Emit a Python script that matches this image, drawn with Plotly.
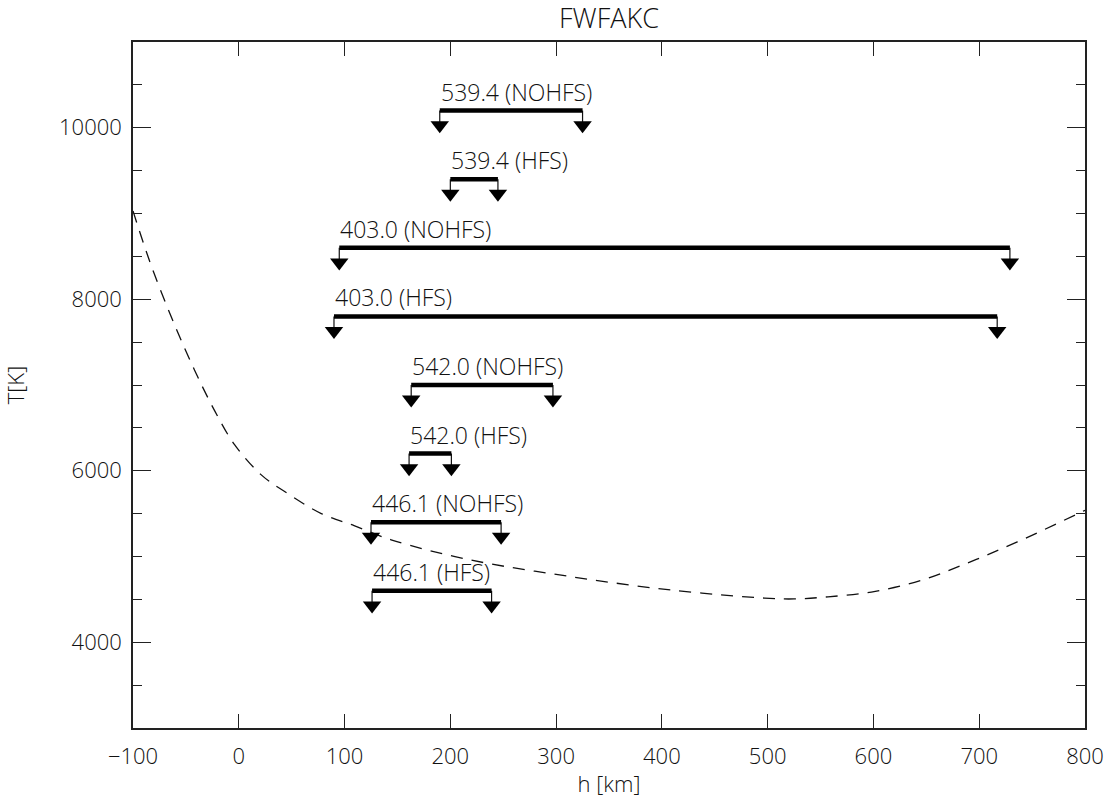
import plotly.graph_objects as go

# ---- data ----
labels = ["539.4 (NOHFS)", "539.4 (HFS)", "403.0 (NOHFS)", "403.0 (HFS)",
          "542.0 (NOHFS)", "542.0 (HFS)", "446.1 (NOHFS)", "446.1 (HFS)"]
h_left = [190, 200, 95, 90, 163, 161, 125, 126]
h_right = [325, 245, 729, 717, 297, 201, 248, 239]
t_level = [10200, 9400, 8600, 7800, 7000, 6200, 5400, 4600]

h_curve = [-100, -90, -80, -61, -42, -23, -4, 21, 43, 78, 109, 144, 219, 314, 408,
           497, 525, 557, 598, 645, 689, 736, 796, 800]
t_curve = [9030, 8650, 8300, 7711, 7179, 6704, 6305, 5955, 5760, 5501, 5360, 5195,
           4960, 4765, 4610, 4515, 4505, 4530, 4585, 4720, 4925, 5170, 5515, 5540]

x_ticks = [-100, 0, 100, 200, 300, 400, 500, 600, 700, 800]
x_ticktext = ["\u2212100", "0", "100", "200", "300", "400", "500", "600", "700", "800"]
y_ticks = [4000, 6000, 8000, 10000]
y_ticktext = ["4000", "6000", "8000", "10000"]

FONT = "Open Sans, DejaVu Sans, sans-serif"
W = 300
INK = "#111111"
ARROW_DROP = 170  # data units between bar and arrowhead centre

fig = go.Figure()

# dashed temperature curve
fig.add_trace(go.Scatter(x=h_curve, y=t_curve, mode="lines",
                         line=dict(color=INK, width=1.3, dash="12px,9px", shape="spline", smoothing=1.0),
                         hoverinfo="skip"))

for lab, xl, xr, t in zip(labels, h_left, h_right, t_level):
    fig.add_trace(go.Scatter(x=[xl, xl, None, xr, xr], y=[t, t - ARROW_DROP, None, t, t - ARROW_DROP],
                             mode="lines", line=dict(color=INK, width=1.2), hoverinfo="skip"))
    fig.add_trace(go.Scatter(x=[xl, xr], y=[t, t], mode="lines",
                             line=dict(color="black", width=4.5), hoverinfo="skip"))
    fig.add_trace(go.Scatter(x=[xl, xr], y=[t - ARROW_DROP, t - ARROW_DROP], mode="markers",
                             marker=dict(symbol="triangle-down", size=16, color="black",
                                         line=dict(width=0)), hoverinfo="skip"))
    fig.add_annotation(x=xl, y=t, text=lab, showarrow=False, xanchor="left", yanchor="bottom",
                       xshift=-1, yshift=1, font=dict(family=FONT, size=23, color=INK, weight=W))

axis_common = dict(showline=True, linecolor="#222222", linewidth=1.5, mirror="allticks",
                   ticks="inside", tickcolor="#222222", tickwidth=1.3, showgrid=False,
                   zeroline=False, automargin=False,
                   tickfont=dict(family=FONT, size=22, color=INK, weight=W))

fig.update_xaxes(range=[-100, 800], tickvals=x_ticks, ticktext=x_ticktext, ticklen=14,
                 ticklabelstandoff=8,
                 title=dict(text="h [km]", font=dict(family=FONT, size=22, color=INK, weight=W), standoff=14),
                 **axis_common)
fig.update_yaxes(range=[3000, 11000], tickvals=y_ticks, ticktext=y_ticktext, ticklen=18,
                 ticklabelstandoff=5,
                 minor=dict(dtick=500, tick0=0, ticks="inside", ticklen=9, tickcolor="#222222", tickwidth=1.3),
                 title=dict(text="T[K]", font=dict(family=FONT, size=22, color=INK, weight=W), standoff=32),
                 **axis_common)

fig.update_layout(
    width=1111, height=798,
    margin=dict(l=133, r=26, t=42, b=70),
    plot_bgcolor="white", paper_bgcolor="white", showlegend=False,
    title=dict(text="FWFAKC", x=0.5, xref="paper", xanchor="center", y=1 - 19 / 798,
               yref="container", yanchor="middle", font=dict(family=FONT, size=27, color=INK, weight=W)),
)

fig.write_html("out.html")
